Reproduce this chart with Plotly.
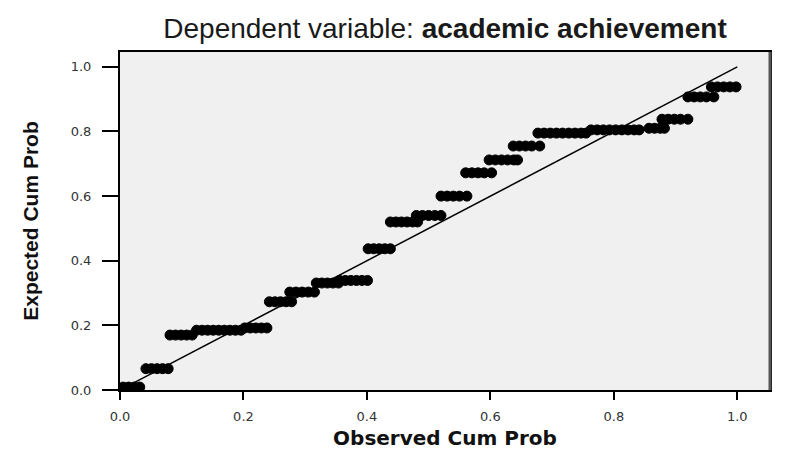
import plotly.graph_objects as go

# Observed cumulative probability (x) and expected cumulative probability (y)
observed = [
    0.005, 0.014, 0.023, 0.032,
    0.042, 0.051, 0.060, 0.069, 0.078,
    0.081, 0.090, 0.099, 0.108, 0.117,
    0.124, 0.133, 0.142, 0.151, 0.160, 0.169, 0.178, 0.187, 0.196,
    0.202, 0.211, 0.220, 0.229, 0.238,
    0.242, 0.251, 0.260, 0.269, 0.278,
    0.275, 0.285, 0.295, 0.305, 0.315,
    0.318, 0.327, 0.336, 0.345, 0.354,
    0.356, 0.365, 0.374, 0.383, 0.392, 0.401,
    0.402, 0.411, 0.420, 0.429, 0.438,
    0.438, 0.447, 0.456, 0.465, 0.474, 0.482,
    0.480, 0.490, 0.500, 0.510, 0.520,
    0.520, 0.530, 0.540, 0.550, 0.562,
    0.560, 0.570, 0.580, 0.590, 0.602,
    0.598, 0.608, 0.618, 0.628, 0.638, 0.644,
    0.637, 0.647, 0.657, 0.667, 0.680,
    0.677, 0.687, 0.697, 0.707, 0.717, 0.727, 0.737, 0.747, 0.755,
    0.763, 0.773, 0.783, 0.793, 0.803, 0.813, 0.823, 0.833, 0.841,
    0.857, 0.866, 0.875, 0.882,
    0.878, 0.888, 0.898, 0.908, 0.920,
    0.920, 0.930, 0.940, 0.950, 0.962,
    0.958, 0.968, 0.978, 0.988, 0.998,
]
expected = [
    0.009, 0.009, 0.009, 0.009,
    0.066, 0.066, 0.066, 0.066, 0.066,
    0.170, 0.170, 0.170, 0.170, 0.170,
    0.185, 0.185, 0.185, 0.185, 0.185, 0.185, 0.185, 0.185, 0.185,
    0.192, 0.192, 0.192, 0.192, 0.192,
    0.273, 0.273, 0.273, 0.273, 0.273,
    0.303, 0.303, 0.303, 0.303, 0.303,
    0.331, 0.331, 0.331, 0.331, 0.331,
    0.339, 0.339, 0.339, 0.339, 0.339, 0.339,
    0.437, 0.437, 0.437, 0.437, 0.437,
    0.520, 0.520, 0.520, 0.520, 0.520, 0.520,
    0.540, 0.540, 0.540, 0.540, 0.540,
    0.600, 0.600, 0.600, 0.600, 0.600,
    0.672, 0.672, 0.672, 0.672, 0.672,
    0.712, 0.712, 0.712, 0.712, 0.712, 0.712,
    0.755, 0.755, 0.755, 0.755, 0.755,
    0.795, 0.795, 0.795, 0.795, 0.795, 0.795, 0.795, 0.795, 0.795,
    0.805, 0.805, 0.805, 0.805, 0.805, 0.805, 0.805, 0.805, 0.805,
    0.810, 0.810, 0.810, 0.810,
    0.838, 0.838, 0.838, 0.838, 0.838,
    0.907, 0.907, 0.907, 0.907, 0.907,
    0.938, 0.938, 0.938, 0.938, 0.938,
]
reference_x = [0.0, 1.0]
reference_y = [0.0, 1.0]
tick_values = [0.0, 0.2, 0.4, 0.6, 0.8, 1.0]
tick_labels = ["0.0", "0.2", "0.4", "0.6", "0.8", "1.0"]

# the page body has an 8px default margin, so the figure is sized to fit the window
FIG_W, FIG_H = 786, 442

fig = go.Figure()
fig.add_trace(go.Scatter(
    x=reference_x, y=reference_y, mode="lines",
    line=dict(color="black", width=1.5), showlegend=False, hoverinfo="skip",
))
fig.add_trace(go.Scatter(
    x=observed, y=expected, mode="markers",
    marker=dict(symbol="circle", size=10, color="black",
                line=dict(color="black", width=1)),
    showlegend=False,
))

tick_font = dict(family="DejaVu Sans", size=13, color="#333333")
fig.update_layout(
    width=FIG_W, height=FIG_H,
    margin=dict(l=112, r=24, t=44, b=60),
    paper_bgcolor="white",
    plot_bgcolor="#f0f0f0",
    title=dict(
        text="Dependent variable: <b>academic achievement</b>",
        font=dict(family="Liberation Sans, Arial, sans-serif", size=28, color="#1a1a1a"),
        x=0.5, xref="paper", xanchor="center",
        y=1 - 20 / FIG_H, yref="container", yanchor="middle",
    ),
    xaxis=dict(
        range=[0, 1.053], tickvals=tick_values, ticktext=tick_labels,
        showgrid=False, zeroline=False, automargin=False,
        showline=True, linecolor="black", linewidth=2, mirror=True,
        ticks="outside", ticklen=8, tickwidth=2, tickcolor="black",
        tickfont=tick_font, ticklabelstandoff=5,
        title=dict(text="<b>Observed Cum Prob</b>",
                   font=dict(family="DejaVu Sans", size=20, color="#111111"),
                   standoff=8),
    ),
    yaxis=dict(
        range=[0, 1.046], tickvals=tick_values, ticktext=tick_labels,
        showgrid=False, zeroline=False, automargin=False,
        showline=True, linecolor="black", linewidth=2, mirror=True,
        ticks="outside", ticklen=16, tickwidth=2, tickcolor="black",
        tickfont=tick_font, ticklabelstandoff=8,
        title=dict(text="<b>Expected Cum Prob</b>",
                   font=dict(family="Liberation Sans Narrow, Liberation Sans, Arial", size=21, color="#111111"),
                   standoff=26),
    ),
    shapes=[dict(type="line", xref="paper", yref="paper", x0=1, x1=1, y0=0, y1=1,
                 line=dict(color="#555555", width=3))],
)

fig.write_html("out.html")
